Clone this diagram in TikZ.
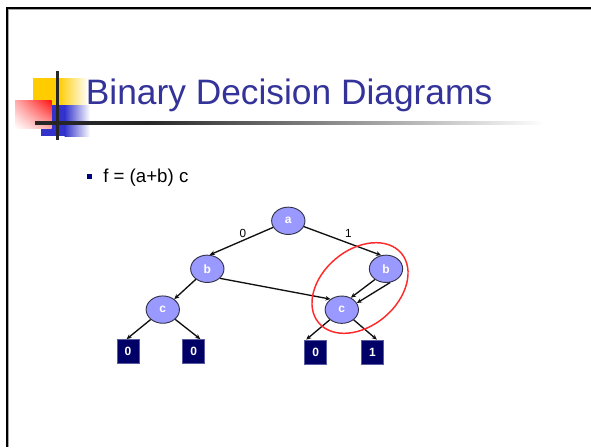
\documentclass[tikz,border=0pt]{standalone}
\usepackage{fontspec}
\setmainfont{Liberation Sans}
\usetikzlibrary{shapes.geometric,arrows.meta,calc,shadings}
\definecolor{titleblue}{HTML}{333399}
\definecolor{nodefill}{HTML}{9999FF}
\definecolor{nodeline}{HTML}{33334A}
\definecolor{termfill}{HTML}{000066}
\definecolor{termline}{HTML}{5A5AA0}
\definecolor{decoyellow}{HTML}{FFCC00}
\definecolor{decoblue}{HTML}{3333CC}
\definecolor{decored}{HTML}{FF1010}
\definecolor{rulegray}{HTML}{262626}
\definecolor{ringred}{HTML}{FF2A2A}
\definecolor{bulletblue}{HTML}{000080}
\definecolor{edgeblack}{HTML}{101010}
\pgfdeclarehorizontalshading{rulefade}{100bp}{color(0bp)=(rulegray); color(36bp)=(rulegray); color(75bp)=(white); color(100bp)=(white)}
\begin{document}
\begin{tikzpicture}[x=0.75pt,y=-0.75pt,
  bddnode/.style={ellipse, draw=nodeline, line width=0.7pt, fill=nodefill,
    minimum width=25pt, minimum height=20.5pt, inner sep=0pt, text=white,
    font=\fontsize{9}{10}\selectfont\bfseries},
  termnode/.style={rectangle, draw=termline, line width=0.6pt, fill=termfill,
    minimum width=16.5pt, minimum height=18pt, inner sep=0pt, text=white,
    font=\fontsize{9}{10}\selectfont\bfseries},
  edge/.style={draw=edgeblack, line width=1pt, -{Stealth[length=3.8pt,width=3.4pt]}},
  edgelabel/.style={font=\fontsize{8.8}{9}\selectfont, inner sep=0pt}
]
\useasboundingbox (0,0) rectangle (591,447);
\fill[white] (0,0) rectangle (591,447);

% slide frame
\draw[black, line width=1.6pt] (7.1,447) -- (7.1,7.6) -- (591,7.6);
\draw[gray!70, line width=0.75pt] (8.9,447) -- (8.9,9.2) -- (591,9.2);

% title decoration
\fill[decoyellow] (33.3,78.3) rectangle (59,105);
\shade[left color=decoyellow, right color=white] (58.5,78.3) rectangle (88,105);
\fill[decoblue] (41,105) rectangle (65,136);
\shade[left color=decoblue, right color=white] (64.5,105) rectangle (90,136);
\shade[upper right=decored, upper left=decored!35, lower right=decored!35, lower left=white]
  (15,100) rectangle (51.7,128.3);
\draw[rulegray, line width=2.2pt] (57.5,71) -- (57.5,140);
\shade[shading=rulefade] (35,121.8) rectangle (545,124.2);

% title
\node[anchor=base west, inner sep=0pt, text=titleblue, font=\fontsize{26.5}{30}\selectfont]
  (title) at (85.6,104) {Binary Decision Diagrams};

% bullet line
\fill[bulletblue] (87.3,174) rectangle (92.3,179);
\node[anchor=base west, inner sep=0pt, font=\fontsize{14}{16}\selectfont]
  (formula) at (103,182.7) {f = (a+b) c};

% BDD nodes
\node[bddnode] (a)  at (288.3,220.8) {a};
\node[bddnode] (bl) at (207.3,268.8) {b};
\node[bddnode] (br) at (386,268.8) {b};
\node[bddnode] (cl) at (162.8,309.6) {c};
\node[bddnode] (cr) at (341.8,309.7) {c};
\node[termnode] (t1) at (128,351.5) {0};
\node[termnode] (t2) at (193.7,351.5) {0};
\node[termnode] (t3) at (315.8,352) {0};
\node[termnode] (t4) at (372.5,352) {1};

% edges
\draw[edge] (a) -- (bl.80);
\draw[edge] (a) -- (br.110);
\draw[edge] (bl) -- (cl);
\draw[edge] (bl.323) -- (cr.137);
\draw[edge] (br.224) -- (cr.53);
\draw[edge] (br.287) -- (cr.24);
\draw[edge] (cl) -- ($(t1.north west)!0.44!(t1.north east)$);
\draw[edge] (cl) -- ($(t2.north west)!0.79!(t2.north east)$);
\draw[edge] (cr) -- ($(t3.north west)!0.08!(t3.north east)$);
\draw[edge] (cr) -- ($(t4.north west)!0.69!(t4.north east)$);

% edge labels
\node[edgelabel] (l0) at (243,233) {0};
\node[edgelabel] (l1) at (348.3,233) {1};

% red ring
\draw[ringred, line width=1.1pt, rotate around={40:(360,288)}]
  (360,288) ellipse [x radius=54, y radius=38];
\end{tikzpicture}
\end{document}
